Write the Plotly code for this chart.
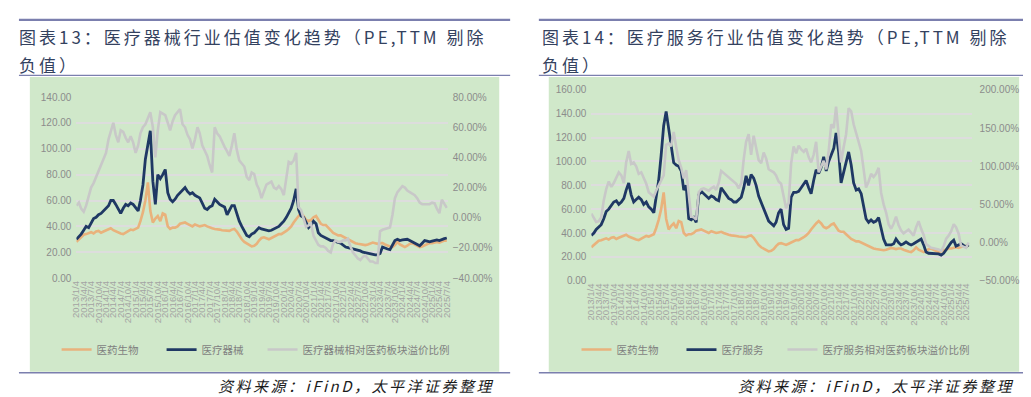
import plotly.graph_objects as go
import pandas as pd

W, H = 1031, 397

# ---------------- data (monthly readings, first point 2013/1/4) ----------------
pharma_pe = [28, 30, 32, 33.5, 34, 35, 35.5, 34.5, 36, 36.5,
             35, 36, 37, 37.5, 38.5, 37, 36, 35, 34.5, 34,
             35, 36, 37.5, 37, 38, 39, 44, 51, 60, 74,
             52, 43, 46, 48, 44, 50, 49, 40, 38, 39,
             39, 40, 42, 42.5, 43, 42, 41, 40, 41.5, 41,
             40, 40.5, 41, 40, 39, 38.5, 38, 38, 37.5, 37,
             37, 36.5, 36.5, 37.5, 38, 36, 33, 30, 28, 27,
             25.5, 24.5, 25, 26.5, 29, 31, 31.5, 30.5, 30, 31,
             32, 33, 34, 34, 35, 36.5, 38, 40, 43, 46,
             48, 50, 48, 45, 44, 45, 47, 48, 45, 42,
             41, 41, 39, 37, 35, 34, 33, 33, 32, 31,
             30, 28.5, 27.5, 27, 26.5, 26, 25.5, 25.5, 26, 27,
             27.5, 27, 26.5, 27, 27, 26, 25, 24.5, 24, 25.5,
             28, 26, 25, 24, 25, 26.5, 27, 26, 25, 24,
             24.5, 25.5, 26, 27, 27, 27.5, 28, 27.5, 28.5, 29, 29, 29.5]

device_pe = [30, 32, 34, 37, 40, 39, 43, 46, 47, 49,
             50, 52, 54, 56, 60, 60, 57, 53, 50, 54,
             57, 56, 58, 57, 54, 52, 60, 72, 92, 104,
             114, 75, 57, 80, 77, 80, 84, 66, 61, 59,
             61, 64, 66, 68, 70, 67, 65, 66, 64, 63,
             62, 58, 54, 53, 55, 56, 61, 59, 57, 56,
             55, 49, 53, 56, 56, 49, 44, 40, 36, 33,
             32, 34, 35, 37, 39, 38, 37.5, 37, 36.5, 37,
             38, 39, 40, 42, 44, 47, 50, 54, 60, 69,
             53, 48, 47, 43, 39, 41, 44, 42, 35, 33,
             32, 31, 30, 29, 29, 28, 27.5, 27, 25.5, 24,
             23.5, 23, 23, 22.5, 22, 21, 20, 19.5, 19, 18.5,
             18, 18, 18, 19, 24, 23, 22.5, 22, 26, 29,
             30, 29, 29.5, 30, 30, 29, 28, 27.5, 26, 25,
             27, 29, 28.5, 28, 28.5, 29, 29.5, 29, 30, 30.5, 31]

device_premium = [8, 10, 6, 4, 8, 15, 20, 23, 27, 30,
                  35, 38, 43, 52, 58, 63, 55, 50, 58, 57,
                  53, 50, 54, 50, 43, 48, 56, 60, 62, 66,
                  70, 60, 40, 58, 70, 69, 68, 63, 58, 64,
                  68, 70, 72, 62, 60, 55, 52, 46, 52, 60,
                  56, 48, 44, 41, 35, 30, 60, 56, 54, 50,
                  47, 44, 41, 48, 56, 45, 38, 36, 34, 27,
                  25, 30, 29, 22, 19, 13, 18, 22, 23, 24,
                  20, 19, 21, 19, 15, 25, 37, 36, 38, 43,
                  7, 5, 0, -6, -5, -4, -12, -15, -18, -19,
                  -19, -20, -22, -23, -17, -15, -16, -16, -15, -15,
                  -14, -19, -23, -25, -27, -28, -26, -25, -27, -29,
                  -29, -30, -30, -9, -8, -7.5, -7, -6.5, 2, 13,
                  17, 19, 21, 20, 18, 17, 16, 15, 13, 10,
                  9, 9, 8.5, 9, 10, 9.5, 6, 3, 12, 9, 6.5]

service_pe = [38, 40, 43, 45, 47, 52, 58, 60, 63, 66,
              67, 64, 66, 69, 76, 82, 72, 66, 68, 70,
              68, 64, 66, 62, 60, 57, 70, 84, 105, 130,
              142, 126, 110, 99, 97, 96, 92, 76, 80, 52,
              51, 53, 49, 72, 75, 73, 71, 69, 71, 70,
              68, 67, 78, 75, 72, 69, 68, 66, 66, 68,
              70, 78, 88, 80, 89, 86, 80, 71, 66, 61,
              55, 50, 48, 46, 49, 57, 60, 47, 43, 44,
              70, 74, 74, 75, 78, 81, 84, 78, 73, 84,
              93, 90, 95, 104, 92, 100, 106, 111, 124, 108,
              82, 90, 100, 108, 97, 82, 76, 77, 73, 62,
              52, 49, 51, 49, 50, 53, 45, 35, 30, 30,
              30, 31, 35, 32, 30, 31, 32.5, 31, 30, 31,
              32.5, 34, 35, 30, 24, 23, 23, 22.5, 23, 22.5,
              21.5, 23, 26, 29.5, 32, 34, 29, 30, 31, 29.5, 28.5, 30]

service_premium = [38, 33, 27, 28, 33, 55, 70, 80, 73, 78,
                   85, 92, 88, 78, 105, 120, 103, 105, 100, 90,
                   92, 85, 77, 66, 63, 60, 68, 75, 83, 88,
                   128, 130, 126, 145, 125, 108, 98, 84, 95, 60,
                   34, 33, 30, 66, 70, 71, 69, 68, 71, 73,
                   69, 78, 94, 91, 89, 86, 83, 80, 77, 71,
                   78, 110, 132, 142, 115, 140, 125, 108, 104, 118,
                   110, 96, 94, 92, 88, 80, 77, 60, 45, 52,
                   104, 126, 117, 127, 122, 119, 123, 112, 105, 115,
                   132, 92, 100, 107, 96, 120, 155, 150, 178, 140,
                   105, 125, 142, 176, 172, 155, 142, 132, 120, 95,
                   72, 80, 90, 86, 90, 98, 65, 50, 39, 24,
                   18, 25, 34, 23, 16, 12, 14, 17, 13, 9,
                   20, 28, 18, 10, -2, -4, -7, -7.5, -8, -9,
                   -11, -5, 5, 9, 15, 24, 20, 12, -4, -6, -7, 0]

dates = pd.date_range("2013-01-04", periods=152, freq=pd.DateOffset(months=1))
tick_dates = list(pd.date_range("2013-01-04", "2025-07-04", freq=pd.DateOffset(months=3)))
tick_labels = [f"{d.year}/{d.month}/{d.day}" for d in tick_dates]

titles_left = ["图表13：医疗器械行业估值变化趋势（PE,TTM 剔除", "负值）"]
titles_right = ["图表14：医疗服务行业估值变化趋势（PE,TTM 剔除", "负值）"]
source_text = "资料来源：iFinD，太平洋证券整理"

# ---------------- styles ----------------
ORANGE = "#e9b27c"
NAVY = "#1f3864"
GRAY = "#c8c8c8"
GREEN = "#d0e8ca"
GRID = "#dddddd"
RULE = "#7b7fae"
TITLE_C = "#34425f"
CJK = "Noto Sans CJK SC"
LAT = "Liberation Sans"


def px(x):
    return x / W


def py(y):
    return 1 - y / H


fig = go.Figure()

# left chart
fig.add_trace(go.Scatter(x=dates[:len(device_pe)], y=pharma_pe[:len(device_pe)], name="医药生物",
                         mode="lines", line=dict(color=ORANGE, width=2.6), xaxis="x", yaxis="y", legend="legend"))
fig.add_trace(go.Scatter(x=dates[:len(device_pe)], y=device_pe, name="医疗器械",
                         mode="lines", line=dict(color=NAVY, width=2.8), xaxis="x", yaxis="y", legend="legend"))
fig.add_trace(go.Scatter(x=dates[:len(device_premium)], y=device_premium, name="医疗器械相对医药板块溢价比例",
                         mode="lines", line=dict(color=GRAY, width=2.6), xaxis="x", yaxis="y2", legend="legend3"))

# right chart
fig.add_trace(go.Scatter(x=dates[:len(pharma_pe)], y=pharma_pe, name="医药生物",
                         mode="lines", line=dict(color=ORANGE, width=2.6), xaxis="x2", yaxis="y3", legend="legend2"))
fig.add_trace(go.Scatter(x=dates[:len(service_pe)], y=service_pe, name="医疗服务",
                         mode="lines", line=dict(color=NAVY, width=2.8), xaxis="x2", yaxis="y3", legend="legend2"))
fig.add_trace(go.Scatter(x=dates[:len(service_premium)], y=service_premium, name="医疗服务相对医药板块溢价比例",
                         mode="lines", line=dict(color=GRAY, width=2.6), xaxis="x2", yaxis="y4", legend="legend4"))

xtick = dict(type="date", tickvals=tick_dates, ticktext=tick_labels, tickangle=-90,
             tickfont=dict(family=LAT, size=9.5, color="#a3a3a3"), showgrid=False,
             zeroline=False, showline=False, ticks="", fixedrange=True)
ytick_font = dict(family=LAT, size=10, color="#8c8c8c")


def legend_at(x_left):
    return dict(orientation="h", x=px(x_left), y=py(346), xanchor="left", yanchor="middle",
                bgcolor="rgba(0,0,0,0)", font=dict(family=CJK, size=10.5, color="#7f7f7f"),
                entrywidth=60, entrywidthmode="pixels", itemclick=False)


legend3 = legend_at(251)
legend3.pop("entrywidth")
legend3.pop("entrywidthmode")
legend4 = legend_at(776)
legend4.pop("entrywidth")
legend4.pop("entrywidthmode")

fig.update_layout(
    width=W, height=H, margin=dict(l=0, r=0, t=0, b=0),
    paper_bgcolor="white", plot_bgcolor="rgba(0,0,0,0)",
    xaxis=dict(domain=[px(63), px(438)], range=["2013-01-04", "2025-07-16"], anchor="y", **xtick),
    yaxis=dict(domain=[py(272.3), py(85.7)], range=[0, 140], dtick=20, tick0=0, tickformat=".2f",
               showgrid=True, gridcolor=GRID, gridwidth=1.5, zeroline=False, anchor="x",
               tickfont=ytick_font, ticklabelstandoff=4),
    yaxis2=dict(overlaying="y", side="right", anchor="x", range=[-40, 80], dtick=20, tick0=0,
                tickformat=".2f", ticksuffix="%", showgrid=False, zeroline=False,
                tickfont=ytick_font, ticklabelstandoff=4),
    xaxis2=dict(domain=[px(583), px(967)], range=["2013-01-04", "2025-09-10"], anchor="y3", **xtick),
    yaxis3=dict(domain=[py(275), py(78.3)], range=[0, 160], dtick=20, tick0=0, tickformat=".2f",
                showgrid=True, gridcolor=GRID, gridwidth=1.5, zeroline=False, anchor="x2",
                tickfont=ytick_font, ticklabelstandoff=4),
    yaxis4=dict(overlaying="y3", side="right", anchor="x2", range=[-50, 200], dtick=50, tick0=0,
                tickformat=".2f", ticksuffix="%", showgrid=False, zeroline=False,
                tickfont=ytick_font, ticklabelstandoff=7),
    legend=legend_at(43),
    legend2=legend_at(568),
    legend3=legend3,
    legend4=legend4,
)

shapes = []
for (x0, x1, gx0, gx1) in [(5, 501, 16, 490), (530, 1025, 540, 1015)]:
    shapes.append(dict(type="rect", xref="paper", yref="paper", x0=px(gx0), x1=px(gx1),
                       y0=py(369), y1=py(65), fillcolor=GREEN, line=dict(width=0), layer="below"))
    shapes.append(dict(type="line", xref="paper", yref="paper", x0=px(x0), x1=px(x1),
                       y0=py(6), y1=py(6), line=dict(color=RULE, width=2.2)))
    shapes.append(dict(type="line", xref="paper", yref="paper", x0=px(x0), x1=px(x1),
                       y0=py(63.3), y1=py(63.3), line=dict(color=RULE, width=1.4)))
    shapes.append(dict(type="line", xref="paper", yref="paper", x0=px(x0), x1=px(x1),
                       y0=py(370), y1=py(370), line=dict(color=RULE, width=1.4)))
fig.update_layout(shapes=shapes)

annos = []
for x_start, lines in [(3, titles_left), (531, titles_right)]:
    for txt, yc in zip(lines, [22.7, 52]):
        annos.append(dict(xref="paper", yref="paper", x=px(x_start), y=py(yc), xanchor="left",
                          yanchor="middle", showarrow=False,
                          text=f'<span style="letter-spacing:3px">{txt}</span>',
                          font=dict(family=CJK, size=17, color=TITLE_C)))
for x_end in [487, 1012]:
    annos.append(dict(xref="paper", yref="paper", x=px(x_end), y=py(383), xanchor="right",
                      yanchor="middle", showarrow=False,
                      text=f'<i><span style="letter-spacing:2.5px">{source_text}</span></i>',
                      font=dict(family=CJK, size=15, color="#1a1a1a")))
fig.update_layout(annotations=annos)

fig.write_html("out.html")
